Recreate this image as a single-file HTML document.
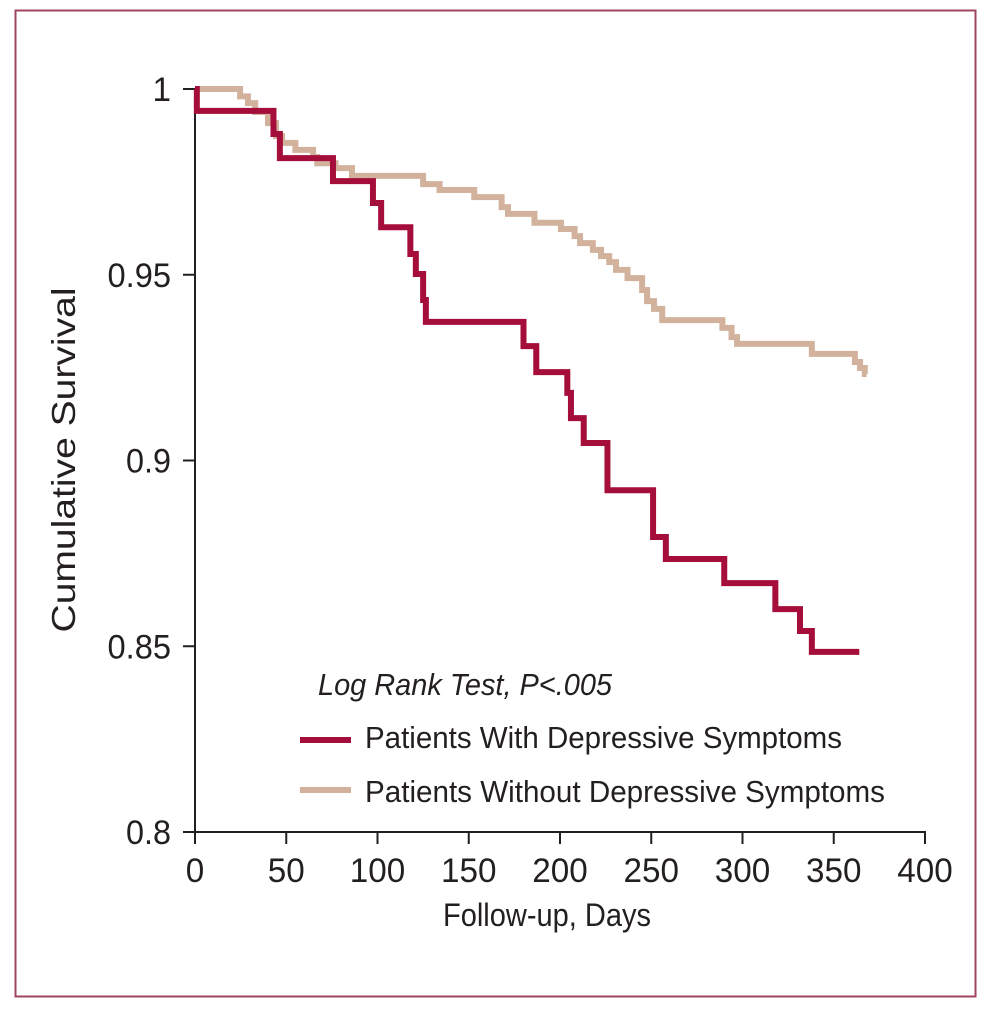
<!DOCTYPE html>
<html><head><meta charset="utf-8"><style>
html,body{margin:0;padding:0;background:#fff;}
svg{display:block;font-family:"Liberation Sans Narrow","Liberation Sans",sans-serif;}
</style></head><body>
<svg width="1000" height="1016" viewBox="0 0 1000 1016">
<rect x="15.5" y="10.5" width="960" height="986" fill="none" stroke="#a0455e" stroke-width="2"/>
<g id="axes"></g>
<g id="series"></g>
<text x="75" y="460" transform="rotate(-90 75 460)" text-anchor="middle" font-size="33" fill="#231f20" textLength="345" lengthAdjust="spacingAndGlyphs">Cumulative Survival</text>
<text x="547" y="926" text-anchor="middle" font-size="32" fill="#231f20" textLength="208" lengthAdjust="spacingAndGlyphs">Follow-up, Days</text>
<g>
<text x="318" y="695" font-size="31" font-style="italic" fill="#231f20" textLength="294" lengthAdjust="spacingAndGlyphs">Log Rank Test, P&lt;.005</text>
<line x1="300" y1="740" x2="351" y2="740" stroke="#a50d3a" stroke-width="6"/>
<text x="365" y="748" font-size="31" fill="#231f20" textLength="477" lengthAdjust="spacingAndGlyphs">Patients With Depressive Symptoms</text>
<line x1="300" y1="790" x2="351" y2="790" stroke="#d2b29c" stroke-width="6"/>
<text x="365" y="802" font-size="31" fill="#231f20" textLength="520" lengthAdjust="spacingAndGlyphs">Patients Without Depressive Symptoms</text>
</g>
</svg>
<script>
const xTicks=[0,50,100,150,200,250,300,350,400];
const yTicks=[0.8,0.85,0.9,0.95,1];
const yTickLabels=["0.8","0.85","0.9","0.95","1"];
const depDays=[0,1,43,46.5,75.6,97.5,102,118,121,125,126.5,180,187,204,206,213,226,251,258,290,318,331.5,338,364];
const depSurv=[1,0.9941,0.9879,0.9814,0.9752,0.9693,0.9628,0.9556,0.9502,0.9432,0.9373,0.9308,0.9238,0.9182,0.9114,0.9047,0.892,0.8794,0.8735,0.867,0.86,0.8541,0.8485,0.8485];
const nonDays=[0,24.7,29,33,40,44.4,47.7,55,64.7,67,77,86,125,134,153,168,171.5,186,200.5,208,211,218,222.5,227,230.7,237,245,247.7,251.5,256,289,294,297,338,361.6,364.4,367,368];
const nonSurv=[1,0.998,0.9962,0.9938,0.9908,0.9873,0.9855,0.9836,0.9817,0.98,0.9787,0.9766,0.9744,0.9728,0.9709,0.9682,0.9664,0.964,0.9623,0.9604,0.9585,0.9567,0.955,0.9534,0.9513,0.9491,0.9459,0.9429,0.9408,0.9378,0.9357,0.9332,0.9314,0.9287,0.9265,0.9249,0.9233,0.9233];
const NS="http://www.w3.org/2000/svg";
const X=d=>195+d*730/400;
const Y=v=>89+(1-v)*3715;
const axes=document.getElementById('axes');
function mk(tag,attrs,parent){const e=document.createElementNS(NS,tag);for(const k in attrs)e.setAttribute(k,attrs[k]);parent.appendChild(e);return e;}
function lw(s){let w=0;for(const c of s)w+=(c==='.')?8:18.5;return w;}
const ya=mk('line',{x1:195,y1:Y(1)-1,x2:195,y2:Y(0.8)+1,stroke:'#231f20','stroke-width':2},axes);


const xa=mk('line',{x1:194,y1:Y(0.8),x2:X(400)+1,y2:Y(0.8),stroke:'#231f20','stroke-width':2},axes);


yTicks.forEach((v,i)=>{
 const t=mk('line',{x1:183,y1:Y(v),x2:195,y2:Y(v),stroke:'#231f20','stroke-width':2},axes);
 
 
 const s=yTickLabels[i];
 const l=mk('text',{x:171,y:Y(v)+12,'text-anchor':'end','font-size':34,fill:'#231f20',textLength:lw(s),lengthAdjust:'spacingAndGlyphs'},axes);
 l.textContent=s;
 
 
});
xTicks.forEach(d=>{
 const t=mk('line',{x1:X(d),y1:Y(0.8),x2:X(d),y2:Y(0.8)+12,stroke:'#231f20','stroke-width':2},axes);
 
 
 const s=String(d);
 const l=mk('text',{x:X(d),y:882,'text-anchor':'middle','font-size':34,fill:'#231f20',textLength:lw(s),lengthAdjust:'spacingAndGlyphs'},axes);
 l.textContent=s;
 
 
});
function stepPath(days,surv){let p='M'+X(days[0])+' '+Y(surv[0]);for(let i=1;i<days.length;i++){p+=' H'+X(days[i])+' V'+Y(surv[i]);}return p;}
const ser=document.getElementById('series');
const pn=mk('path',{d:stepPath(nonDays,nonSurv),fill:'none',stroke:'#d2b29c','stroke-width':6},ser);


const pd=mk('path',{d:stepPath(depDays,depSurv),fill:'none',stroke:'#a50d3a','stroke-width':6},ser);


</script>
</body></html>
